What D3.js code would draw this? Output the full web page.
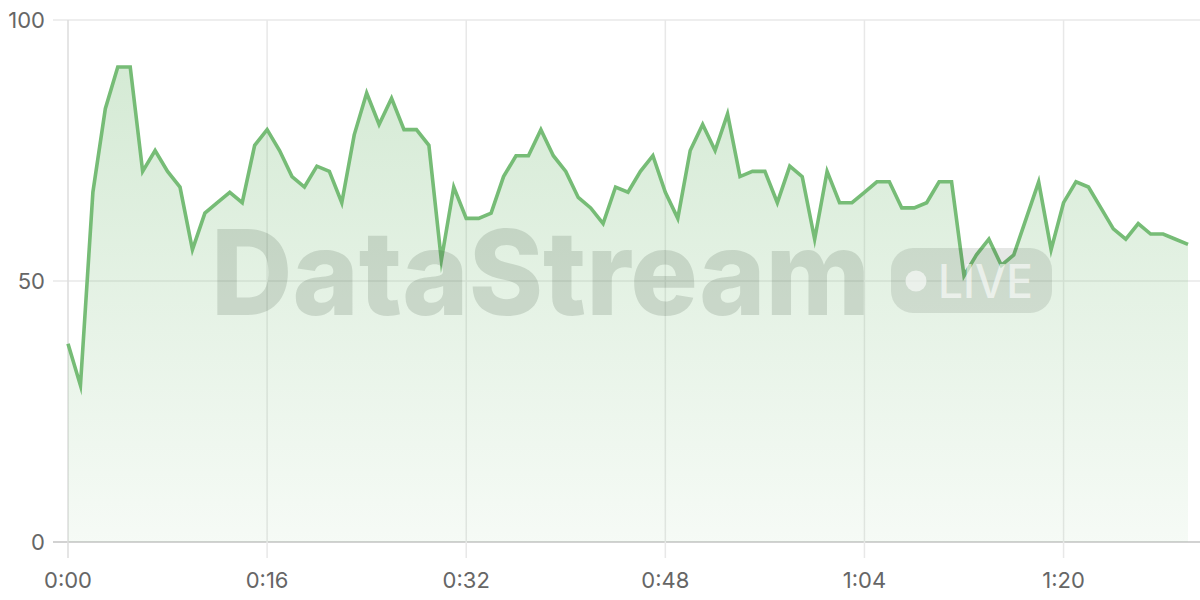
<!DOCTYPE html>
<html>
<head>
<meta charset="utf-8">
<script src="https://cdn.jsdelivr.net/npm/d3@7"></script>
<style>
  html, body { margin: 0; padding: 0; background: #fff; }
  svg { display: block; }
  .tick-label { font-family: Inter, "Helvetica Neue", Arial, sans-serif; font-size: 22px; fill: #666; }
</style>
</head>
<body>
<svg id="chart" width="1200" height="600"></svg>
<script>
// ---- data ----
const seconds = d3.range(0, 91); // one sample per second, 0..90
const values = [
  38, 30, 67, 83, 91, 91, 71, 75, 71, 68,
  56, 63, 65, 67, 65, 76, 79, 75, 70, 68,
  72, 71, 65, 78, 86, 80, 85, 79, 79, 76,
  54, 68, 62, 62, 63, 70, 74, 74, 79, 74,
  71, 66, 64, 61, 68, 67, 71, 74, 67, 62,
  75, 80, 75, 82, 70, 71, 71, 65, 72, 70,
  58, 71, 65, 65, 67, 69, 69, 64, 64, 65,
  69, 69, 51, 55, 58, 53, 55, 62, 69, 56,
  65, 69, 68, 64, 60, 58, 61, 59, 59, 58,
  57
];
const xTicks = [0, 16, 32, 48, 64, 80];
const yTicks = [0, 50, 100];
const watermarkText = "DataStream";
const badgeText = "LIVE";

// ---- layout ----
const svg = d3.select("#chart");
const plotL = 68, plotR = 1188, plotT = 20, plotB = 542;
const gridRight = 1200;
const x = d3.scaleLinear().domain([0, 90]).range([plotL, plotR]);
const y = d3.scaleLinear().domain([0, 100]).range([plotB, plotT]);
const fmt = s => Math.floor(s / 60) + ":" + String(s % 60).padStart(2, "0");
const data = seconds.map((s, i) => ({ s, v: values[i] }));

const defs = svg.append("defs");
const grad = defs.append("linearGradient")
  .attr("id", "fillGrad").attr("x1", 0).attr("y1", 0).attr("x2", 0).attr("y2", 1);
grad.append("stop").attr("offset", "0%").attr("stop-color", "rgb(123,190,123)").attr("stop-opacity", 0.32);
grad.append("stop").attr("offset", "100%").attr("stop-color", "rgb(123,190,123)").attr("stop-opacity", 0.07);

// ---- grid ----
const gy = svg.append("g");
gy.selectAll("line").data(yTicks).join("line")
  .attr("x1", plotL - 15).attr("x2", gridRight)
  .attr("y1", d => y(d)).attr("y2", d => y(d))
  .attr("stroke", d => d === 0 ? "#d2d2d2" : "#e8e8e8")
  .attr("stroke-width", d => d === 0 ? 2 : 1.5);

const gx = svg.append("g");
gx.selectAll("line").data(xTicks).join("line")
  .attr("x1", d => x(d)).attr("x2", d => x(d))
  .attr("y1", plotT).attr("y2", plotB + 16)
  .attr("stroke", d => d === 0 ? "#dcdcdc" : "#e8e8e8")
  .attr("stroke-width", 1.5);

// ---- area + line ----
const area = d3.area().x(d => x(d.s)).y0(y(0)).y1(d => y(d.v));
const line = d3.line().x(d => x(d.s)).y(d => y(d.v));

svg.append("path").datum(data).attr("d", area).attr("fill", "url(#fillGrad)");
svg.append("path").datum(data).attr("d", line)
  .attr("fill", "none").attr("stroke", "#76bc76").attr("stroke-width", 3.6)
  .attr("stroke-linejoin", "miter").attr("stroke-miterlimit", 10);

// ---- axes labels ----
svg.append("g").selectAll("text").data(yTicks).join("text")
  .attr("class", "tick-label")
  .attr("x", 45).attr("y", d => y(d))
  .attr("text-anchor", "end").attr("dominant-baseline", "central")
  .text(d => d);

svg.append("g").selectAll("text").data(xTicks).join("text")
  .attr("class", "tick-label")
  .attr("x", d => x(d)).attr("y", 580)
  .attr("text-anchor", "middle").attr("dominant-baseline", "central")
  .text(d => fmt(d));

// ---- watermark ----
const wm = svg.append("g").attr("pointer-events", "none");
wm.append("text")
  .attr("x", 211).attr("y", 315)
  .attr("font-family", "Inter, 'Helvetica Neue', Arial, sans-serif")
  .attr("font-weight", 800).attr("font-size", 118)
  .attr("textLength", 659).attr("lengthAdjust", "spacingAndGlyphs")
  .attr("fill", "rgba(40,60,40,0.15)")
  .text(watermarkText);
wm.append("rect")
  .attr("x", 891).attr("y", 248).attr("width", 161).attr("height", 65)
  .attr("rx", 22).attr("fill", "rgba(40,60,40,0.12)");
wm.append("circle")
  .attr("cx", 916).attr("cy", 281).attr("r", 10.5)
  .attr("fill", "rgba(255,255,255,0.6)");
wm.append("text")
  .attr("x", 938).attr("y", 298)
  .attr("font-family", "Inter, 'Helvetica Neue', Arial, sans-serif")
  .attr("font-weight", 500).attr("font-size", 46)
  .attr("textLength", 95).attr("lengthAdjust", "spacingAndGlyphs")
  .attr("fill", "rgba(255,255,255,0.6)")
  .text(badgeText);
</script>
</body>
</html>
